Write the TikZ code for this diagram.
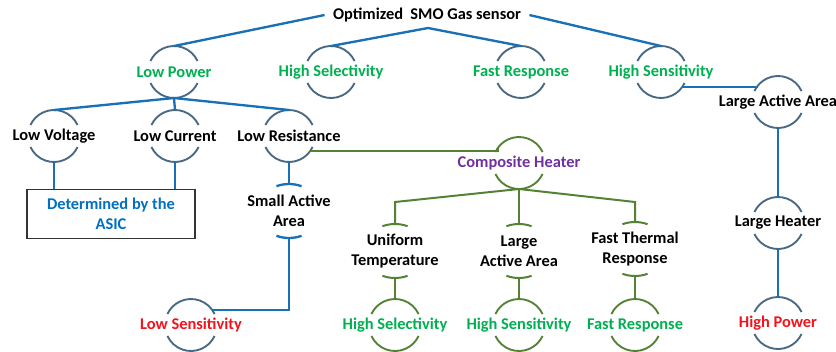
\documentclass[tikz,border=0pt]{standalone}
\usepackage{fontspec}
\setmainfont{Carlito}
\definecolor{linkblue}{RGB}{24,112,182}
\definecolor{haloblue}{RGB}{72,104,132}
\definecolor{linkgreen}{RGB}{84,130,53}
\definecolor{goodgreen}{RGB}{0,176,80}
\definecolor{badred}{RGB}{240,20,30}
\definecolor{heatpurple}{RGB}{112,48,160}
\definecolor{asicblue}{RGB}{0,112,192}

\newcommand\R{0.78cm}
\newcommand\B{0.81cm}
% arcs above and below a node
\newcommand\halo[2]{%
  \draw[#2] ([shift={(25:\R)}]#1.center) arc (25:155:\R)
            ([shift={(205:\R)}]#1.center) arc (205:335:\R);}
% flat bars above and below a node
\newcommand\bars[2]{%
  \draw[#2] ([shift={(70:1.1cm)},yshift=-0.29cm]#1.center) arc (70:110:1.1cm)
            ([shift={(250:1.1cm)},yshift=0.29cm]#1.center) arc (250:290:1.1cm);}

\begin{document}
\begin{tikzpicture}[x=0.03cm, y=-0.03cm,
                every node/.style={font=\bfseries\fontsize{14pt}{17pt}\selectfont,
                                   align=center, inner sep=0pt},
                good/.style={text=goodgreen},
                bad/.style={text=badred},
                heat/.style={text=heatpurple},
                box/.style={draw=black!80, line width=1pt, text=asicblue,
                            minimum width=5.04cm, minimum height=1.47cm},
                link/.style={draw=linkblue, line width=2pt},
                glink/.style={draw=linkgreen, line width=1.7pt},
                halo/.style={draw=haloblue, line width=1.6pt},
                ghalo/.style={draw=linkgreen, line width=1.6pt}]
\useasboundingbox (0,0) rectangle (836,351);

\node[inner xsep=7pt] (title) at (427,15) {Optimized~ SMO Gas sensor};
\coordinate (fork) at (428,28);

\node[good] (lp)   at (174,72) {Low Power};
\node[good] (hsel) at (331,72) {High Selectivity};
\node[good] (fr)   at (521,72) {Fast Response};
\node[good] (hsen) at (661,72) {High Sensitivity};
\node (laa) at (778,102) {Large Active Area};

\node (lv) at (54,136)  {Low Voltage};
\node (lc) at (175,136) {Low Current};
\node (lr) at (289,136) {Low Resistance};
\node[box] (asic) at (111,214) {Determined by the\\ASIC};
\node (saa) at (289,211) {Small Active\\Area};
\node[bad] (lsen) at (191,325) {Low Sensitivity};

\node[heat] (ch) at (519,163) {Composite Heater};
\coordinate (utk) at (395,202);
\coordinate (ftk) at (635,202);
\node (ut)  at (395,251) {Uniform\\Temperature};
\node (la)  at (519,251) {Large\\Active Area};
\node (ftr) at (635,249) {Fast Thermal\\Response};
\node[good] (hsel2) at (395,325) {High Selectivity};
\node[good] (hsen2) at (519,325) {High Sensitivity};
\node[good] (fr2)   at (635,325) {Fast Response};

\node (lh) at (778,223) {Large Heater};
\node[bad] (hp) at (778,323) {High Power};

% arcs round the nodes
\foreach \n in {lp,hsel,fr,hsen,laa,lv,lc,lr,lsen,lh,hp} {\halo{\n}{halo}}
\foreach \n in {ch,hsel2,hsen2,fr2} {\halo{\n}{ghalo}}
\bars{saa}{link}
\foreach \n in {ut,la,ftr} {\bars{\n}{glink}}

% blue tree
\draw[link] (title.west) -- ([yshift=\R]lp.center);
\draw[link] ([yshift=\R]hsel.center) -- (fork) -- ([yshift=\R]fr.center);
\draw[link] (title.east) -- ([yshift=\R]hsen.center);
\foreach \n in {lv,lc,lr} \draw[link] ([yshift=-\R]lp.center) -- ([yshift=\R]\n.center);
\draw[link] ([yshift=-\R]lv.center) -- (lv |- asic.north);
\draw[link] ([yshift=-\R]lc.center) -- (lc |- asic.north);
\draw[link] ([yshift=-\R]lr.center) -- ([yshift=\B]saa.center);
\draw[link] ([yshift=-\B]saa.center) |- ([shift={(35:\R)}]lsen.center);
\draw[link] ([shift={(-35:\R)}]hsen.center) -| ([shift={(145:\R)}]laa.center);
\draw[link] ([yshift=-\R]laa.center) -- ([yshift=\R]lh.center);
\draw[link] ([yshift=-\R]lh.center) -- ([yshift=\R]hp.center);

% green tree
\draw[glink] ([shift={(-35:\R)}]lr.center) -| ([shift={(145:\R)}]ch.center);
\draw[glink] ([yshift=-\R]ch.center) -- (utk) -- ([yshift=\B]ut.center);
\draw[glink] ([yshift=-\R]ch.center) -- ([yshift=\B]la.center);
\draw[glink] ([yshift=-\R]ch.center) -- (ftk) -- ([yshift=\B]ftr.center);
\foreach \a/\b in {ut/hsel2,la/hsen2,ftr/fr2}
  \draw[glink] ([yshift=-\B]\a.center) -- ([yshift=\R]\b.center);

\end{tikzpicture}
\end{document}
